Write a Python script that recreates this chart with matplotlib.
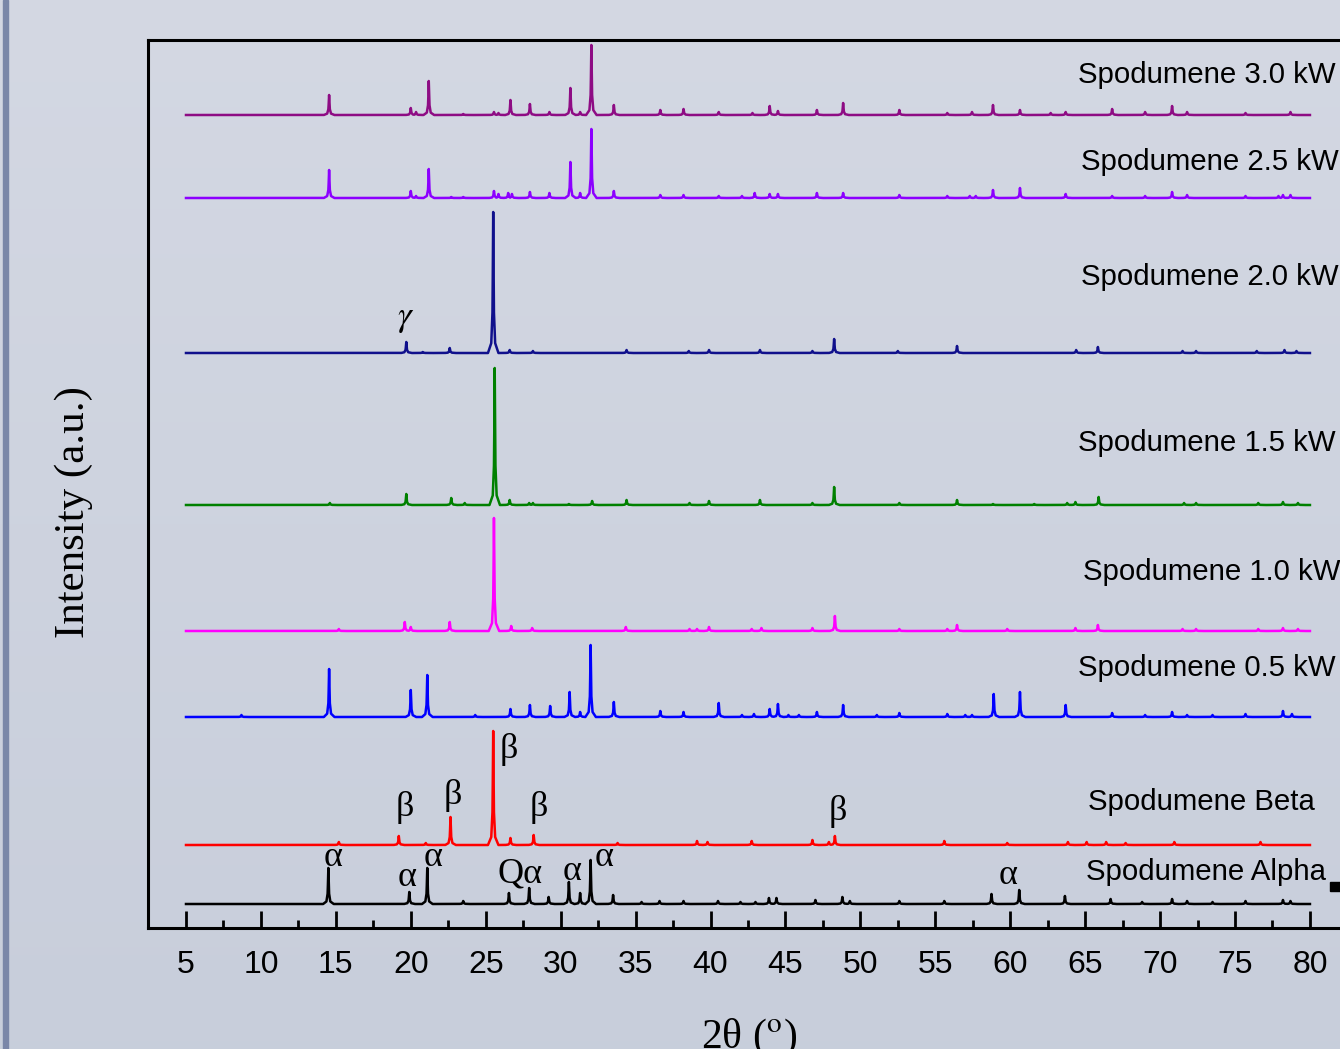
"""XRD patterns of spodumene samples, stacked."""
import numpy as np
import matplotlib
matplotlib.use("Agg")
import matplotlib.pyplot as plt
from matplotlib.patches import Rectangle

plt.rcParams["mathtext.fontset"] = "stix"

# -------------------------------------------------------
# Peak lists: (2theta, height in a.u.) for each sample.
# -------------------------------------------------------
alpha_peaks = [
    (14.5, 36), (19.9, 12), (21.1, 36), (23.5, 3), (26.55, 11), (27.9, 16),
    (29.2, 7), (30.55, 22), (31.3, 11), (32.0, 44), (33.5, 9), (35.4, 2),
    (36.6, 3), (38.2, 3), (40.5, 3), (42.0, 2), (43.0, 2), (43.9, 6),
    (44.4, 6), (47.0, 4), (48.8, 7), (49.3, 3), (52.6, 3), (55.6, 3),
    (58.75, 10), (60.6, 14), (63.65, 8), (66.7, 5), (68.8, 2), (70.8, 5),
    (71.8, 3), (73.5, 2), (75.7, 3), (78.2, 4), (78.7, 3),
]
beta_peaks = [
    (15.2, 3), (19.2, 9), (21.0, 2), (22.65, 28), (25.5, 114), (26.65, 7),
    (28.2, 10), (33.8, 2), (39.1, 4), (39.8, 3), (42.75, 4), (46.8, 5),
    (47.9, 3), (48.3, 9), (55.6, 4), (59.8, 2), (63.85, 3), (65.1, 3),
    (66.4, 3), (67.7, 2), (70.95, 3), (76.7, 3),
]
kw05_peaks = [
    (8.7, 2), (14.55, 48), (20.0, 27), (21.1, 42), (24.3, 2), (26.65, 8),
    (27.95, 12), (29.3, 11), (30.6, 25), (31.3, 5), (32.0, 72), (33.55, 15),
    (36.65, 6), (38.2, 5), (40.55, 14), (42.1, 2), (42.9, 3), (43.95, 8),
    (44.5, 13), (45.2, 2), (45.9, 2), (47.1, 5), (48.85, 12), (51.1, 2),
    (52.6, 4), (55.8, 3), (57.0, 2), (57.45, 2), (58.9, 23), (60.65, 25),
    (63.7, 12), (66.8, 4), (69.0, 2), (70.8, 5), (71.8, 2), (73.5, 2),
    (75.7, 3), (78.2, 6), (78.8, 3),
]
kw10_peaks = [
    (15.2, 2), (19.6, 9), (20.0, 4), (22.6, 9), (25.55, 113), (26.7, 5),
    (28.1, 3), (34.35, 4), (38.6, 2), (39.1, 2), (39.9, 4), (42.75, 2),
    (43.4, 3), (46.8, 3), (48.3, 15), (52.6, 2), (55.8, 2), (56.45, 6),
    (59.8, 2), (64.35, 3), (65.85, 6), (71.5, 2), (72.4, 2), (76.55, 2),
    (78.2, 3), (79.2, 2),
]
kw15_peaks = [
    (14.6, 2), (19.7, 11), (22.7, 7), (23.6, 2), (25.6, 137), (26.6, 5),
    (27.9, 2), (28.15, 2), (30.55, 1), (32.1, 4), (34.4, 5), (38.6, 2),
    (39.9, 4), (43.3, 5), (46.8, 2), (48.25, 18), (52.6, 2), (56.45, 5),
    (58.85, 1), (61.6, 1), (63.8, 2), (64.35, 3), (65.9, 8), (71.6, 2),
    (72.4, 2), (76.55, 2), (78.2, 3), (79.2, 2),
]
kw20_peaks = [
    (19.7, 11), (20.8, 1), (22.6, 5), (25.5, 141), (26.6, 3), (28.15, 2),
    (34.4, 3), (38.55, 2), (39.9, 3), (43.3, 3), (46.8, 2), (48.25, 14),
    (52.5, 2), (56.45, 7), (64.4, 3), (65.85, 6), (71.5, 2), (72.4, 2),
    (76.45, 2), (78.3, 3), (79.1, 2),
]
kw25_peaks = [
    (14.55, 28), (20.0, 7), (20.35, 2), (21.2, 29), (22.7, 1), (23.5, 1),
    (25.55, 7), (25.85, 4), (26.5, 5), (26.75, 4), (27.95, 6), (29.25, 5),
    (30.65, 36), (31.3, 5), (32.05, 69), (33.55, 7), (36.65, 3), (38.2, 3),
    (40.55, 2), (42.1, 2), (42.95, 5), (43.95, 4), (44.5, 4), (47.1, 5),
    (48.85, 5), (52.6, 3), (55.8, 2), (57.3, 2), (57.7, 2), (58.85, 8),
    (60.65, 10), (63.7, 4), (66.8, 2), (69.0, 2), (70.8, 6), (71.8, 3),
    (75.7, 2), (77.9, 2), (78.2, 3), (78.7, 3),
]
kw30_peaks = [
    (14.55, 20), (20.0, 7), (20.35, 3), (21.2, 34), (23.5, 1), (25.55, 3),
    (25.85, 2), (26.65, 15), (27.95, 11), (29.25, 3), (30.65, 27), (31.3, 3),
    (32.05, 70), (33.55, 10), (36.65, 5), (38.2, 6), (40.55, 3), (42.8, 2),
    (43.95, 9), (44.5, 4), (47.1, 5), (48.85, 12), (52.6, 5), (55.8, 2),
    (57.45, 3), (58.85, 10), (60.65, 5), (62.7, 2), (63.7, 3), (66.8, 6),
    (69.0, 3), (70.8, 9), (71.8, 3), (75.7, 2), (78.7, 3),
]

names = [
    "Spodumene Alpha", "Spodumene Beta", "Spodumene 0.5 kW",
    "Spodumene 1.0 kW", "Spodumene 1.5 kW", "Spodumene 2.0 kW",
    "Spodumene 2.5 kW", "Spodumene 3.0 kW",
]
patterns = [
    alpha_peaks, beta_peaks, kw05_peaks, kw10_peaks,
    kw15_peaks, kw20_peaks, kw25_peaks, kw30_peaks,
]

# phase markers: (2theta, intensity, label)
phase_marks = [
    (14.81, 70, "α"), (19.75, 50, "α"), (21.48, 70, "α"), (27.29, 54, "Qα"),
    (30.76, 56, "α"), (32.89, 70, "α"), (59.85, 53, "α"),
    (26.55, 178, "β"), (19.61, 120, "β"), (22.82, 132, "β"),
    (28.55, 120, "β"), (48.5, 116, "β"),
]

# -------------------------------------------------------
# Layout / style.
# -------------------------------------------------------
offsets = [24, 83, 211, 297, 423, 575, 730, 813]
label_pos = [(65.05, 56), (65.19, 126), (64.55, 260), (64.85, 356),
             (64.55, 485), (64.7, 651), (64.7, 766), (64.55, 853)]
colors = ["black", "#ff0000", "#0000ff", "#ff00ff",
          "#008000", "#10108c", "#8c00ff", "#8e0c84"]

# narrow peak profile (degrees, fraction of height)
shape_dx = np.array([-0.35, -0.13, -0.045, 0.0, 0.045, 0.13, 0.35])
shape_fr = np.array([0.0, 0.07, 0.3, 1.0, 0.3, 0.07, 0.0])

def profile(peaks, tt):
    y = np.zeros_like(tt)
    for pos, h in peaks:
        y = np.maximum(y, np.interp(tt, pos + shape_dx, h * shape_fr,
                                    left=0, right=0))
    return y

W, H = 1340, 1049
fig = plt.figure(figsize=(W / 100, H / 100), dpi=100)

# background with a soft vertical shade
bg = fig.add_axes([0, 0, 1, 1], zorder=-2)
shade = np.linspace(0, 1, 256).reshape(-1, 1)
top_c = np.array([0.831, 0.847, 0.890])
bot_c = np.array([0.784, 0.808, 0.859])
bg.imshow(top_c + (bot_c - top_c) * shade[..., None], aspect="auto",
          extent=[0, 1, 0, 1], origin="upper")
bg.axis("off")
bg.add_patch(Rectangle((3 / W, 0), 5 / W, 1, color="#7a87a8",
                       transform=bg.transAxes))

ax = fig.add_axes([148 / W, 121 / H, (1360 - 148) / W, 888 / H])
ax.set_facecolor("none")

tt = np.arange(5, 80.0001, 0.01)
for peaks, off, c in zip(patterns, offsets, colors):
    ax.plot(tt, profile(peaks, tt) + off, color=c, lw=1.8)

for name, (lx, ly) in zip(names, label_pos):
    ax.text(lx, ly, name, fontsize=21.2, va="center", ha="left",
            family=["Liberation Sans", "DejaVu Sans"], clip_on=False)

for px, py, s in phase_marks:
    ax.text(px, py, s, fontsize=26, ha="center", va="center",
            family=["Liberation Serif", "DejaVu Serif"])
ax.text(19.68, 610, r"$\gamma$", fontsize=25, ha="center", va="center")

ax.set_xlim(2.465, 83.34)
ax.set_ylim(0, 888)
ax.set_yticks([])
ax.set_xticks(np.arange(5, 81, 5))
ax.set_xticks(np.arange(7.5, 80, 5), minor=True)
ax.tick_params(axis="x", which="major", direction="in", length=12, width=2,
               labelsize=23, pad=16)
ax.tick_params(axis="x", which="minor", direction="in", length=6, width=2)
for lab in ax.get_xticklabels():
    lab.set_family(["Liberation Sans", "DejaVu Sans"])
for sp in ax.spines.values():
    sp.set_linewidth(2.2)

ax.set_ylabel("Intensity (a.u.)", fontsize=31,
              family=["Liberation Serif", "DejaVu Serif"])
ax.yaxis.set_label_coords(-0.045, 0.468)
ax.set_xlabel("2θ ($^{\\mathrm{o}}$)", fontsize=30,
              family=["Liberation Serif", "DejaVu Serif"])
ax.xaxis.set_label_coords(0.496, -0.1)

# small marker at the right edge
fig.patches.append(Rectangle((1330 / W, (H - 891) / H), 10 / W, 9 / H,
                             color="black", transform=fig.transFigure,
                             figure=fig))

fig.savefig("out.png", dpi=100)
